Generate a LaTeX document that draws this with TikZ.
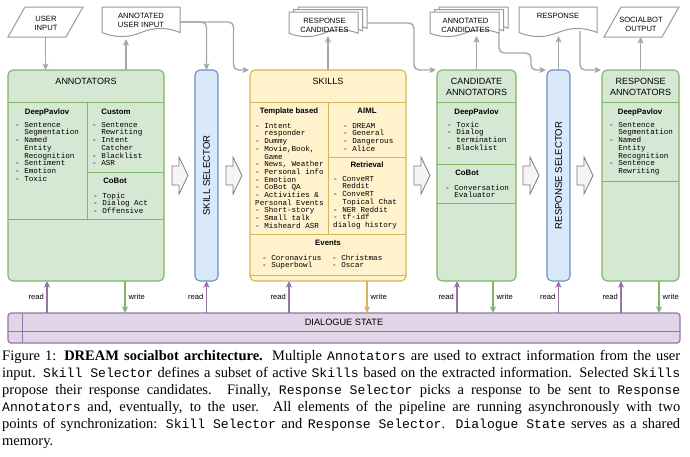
\documentclass[tikz,border=0pt]{standalone}
\usepackage{fontspec}
\setmainfont{Liberation Serif}
\setsansfont{Liberation Sans}
\setmonofont{Liberation Mono}
\usetikzlibrary{calc,arrows.meta}
\definecolor{gfill}{HTML}{D5E8D4}\definecolor{gline}{HTML}{82B366}
\definecolor{yfill}{HTML}{FFF2CC}\definecolor{yline}{HTML}{D6B656}
\definecolor{bfill}{HTML}{DAE8FC}\definecolor{bline}{HTML}{6C8EBF}
\definecolor{pfill}{HTML}{E1D5E7}\definecolor{pline}{HTML}{9673A6}
\definecolor{cline}{HTML}{A6A6A6}
\definecolor{docline}{HTML}{9A9A9A}
\definecolor{afill}{HTML}{F5F5F5}\definecolor{aline}{HTML}{7A7A7A}
\newcommand\mytitle{\fontsize{9}{11}\selectfont\sffamily}
\newcommand\myselfont{\fontsize{9.6}{11}\selectfont\sffamily}
\newcommand\mysub{\fontsize{7.8}{9}\selectfont\sffamily\bfseries}
\newcommand\mylbl{\fontsize{7.6}{9}\selectfont\sffamily}
\newcommand\mylist{\fontsize{7.6}{7.7}\selectfont\ttfamily}
\newcommand\mycap{\fontsize{14.5}{17}\selectfont\rmfamily}
\newcommand\ctt[1]{{\fontsize{13.1}{17}\selectfont\ttfamily #1}}
\newcommand\myfl{\rule{0pt}{6pt}}
\newcommand\myind{\hspace*{1.2em}}
\newcommand\mydoc[4]{\draw[docst] (#1.north west) -- (#1.north east) -- ($(#1.south east)+(0,-#3)$) .. controls +(-#2,-#4) and +(#2,-#4) .. ($(#1.south)+(0,-#3)$) .. controls +(-#2,#4) and +(#2,#4) .. ($(#1.south west)+(0,-#3)$) -- cycle;}
\newcommand\myarrow[1]{\draw[barrow] (#1,166) -- ({#1+7},166) -- ({#1+7},157) -- ({#1+16},175.5) -- ({#1+7},194) -- ({#1+7},185) -- (#1,185) -- cycle;}
\begin{document}
\begin{tikzpicture}[x=1pt,y=-1pt,
 box/.style={line width=1.1pt, rounded corners=5pt, inner sep=0pt, outer sep=0pt},
 gbox/.style={box, draw=gline, fill=gfill},
 ybox/.style={box, draw=yline, fill=yfill},
 bbox/.style={box, draw=bline, fill=bfill},
 pbox/.style={box, draw=pline, fill=pfill, rounded corners=3pt},
 ttl/.style={font=\mytitle, inner sep=0pt, align=center},
 sub/.style={font=\mysub, inner sep=0pt},
 lst/.style={font=\mylist, inner sep=0pt, anchor=north west, align=left},
 lbl/.style={font=\mylbl, inner sep=0pt, align=center},
 shp/.style={inner sep=0pt, outer sep=0pt},
 docst/.style={draw=docline, fill=white, line width=1pt},
 barrow/.style={draw=aline, fill=afill, line width=0.8pt},
 conn/.style={draw=cline, line width=1.4pt, rounded corners=5pt, -{Stealth[length=6.5pt,width=6pt,inset=1.5pt]}},
 rd/.style={draw=pline, line width=1.4pt, -{Stealth[length=6.5pt,width=6pt,inset=1.5pt]}},
 wr/.style={line width=1.4pt, -{Stealth[length=6.5pt,width=6pt,inset=1.5pt]}},
]
\useasboundingbox[fill=white] (0,0) rectangle (690,456);

% ---------- main boxes ----------
\node[gbox, minimum width=156, minimum height=211] (ann) at (86,175.5) {};
\node[bbox, minimum width=23, minimum height=211] (ssel) at (206.5,175.5) {};
\node[ybox, minimum width=156, minimum height=211] (skills) at (328,175.5) {};
\node[gbox, minimum width=79, minimum height=211] (cann) at (476.5,175.5) {};
\node[bbox, minimum width=23, minimum height=211] (rsel) at (558.5,175.5) {};
\node[gbox, minimum width=77, minimum height=211] (rann) at (640.5,175.5) {};
\node[pbox, minimum width=672, minimum height=30] (ds) at (344,328) {};

% dividers
\draw[gline, line width=1pt] (8,102) -- (164,102) (87,102) -- (87,219) (87,172) -- (164,172) (8,219) -- (164,219);
\draw[yline, line width=1pt] (250,102) -- (406,102) (328,102) -- (328,234) (328,157) -- (406,157) (250,234) -- (406,234) (250,275) -- (406,275);
\draw[gline, line width=1pt] (437,102) -- (516,102) (437,164) -- (516,164) (437,203) -- (516,203);
\draw[gline, line width=1pt] (602,102) -- (679,102) (602,181) -- (679,181);
\draw[pline, line width=1pt] (8,331) -- (680,331) (22,313) -- (22,343);

% ---------- texts in boxes ----------
\node[ttl] (annT) at (86,81) {ANNOTATORS};
\node[sub] (annDP) at (47,112) {DeepPavlov};
\node[lst] (annDPl) at (15,121) {\myfl- Sentence\\\myind Segmentation\\- Named\\\myind Entity\\\myind Recognition\\- Sentiment\\- Emotion\\- Toxic};
\node[sub] (annCu) at (116,112) {Custom};
\node[lst] (annCul) at (92,121) {\myfl- Sentence\\\myind Rewriting\\- Intent\\\myind Catcher\\- Blacklist\\- ASR};
\node[sub] (annCo) at (115,181) {CoBot};
\node[lst] (annCol) at (93,192) {\myfl- Topic\\- Dialog Act\\- Offensive};

\node[font=\myselfont, rotate=90, inner sep=0pt] (sselT) at (206.5,175.5) {SKILL SELECTOR};

\node[ttl] (skT) at (328,81) {SKILLS};
\node[sub] (skTB) at (289,111) {Template based};
\node[lst] (skTBl) at (255,122) {\myfl- Intent\\\myind responder\\- Dummy\\- Movie,Book,\\\myind Game\\- News, Weather\\- Personal info\\- Emotion\\- CoBot QA\\- Activities \&\\Personal Events\\- Short-story\\- Small talk\\- Misheard ASR};
\node[sub] (skAI) at (367,111) {AIML};
\node[lst] (skAIl) at (343,122) {\myfl- DREAM\\- General\\- Dangerous\\- Alice};
\node[sub] (skRe) at (367,165) {Retrieval};
\node[lst] (skRel) at (333,175) {\myfl- ConveRT\\\myind Reddit\\- ConveRT\\\myind Topical Chat\\- NER Reddit\\- tf-idf\\dialog history};
\node[sub] (skEv) at (328,243) {Events};
\node[lst] (skEvl) at (262,254) {\myfl- Coronavirus\\- Superbowl};
\node[lst] (skEvr) at (332,254) {\myfl- Christmas\\- Oscar};

\node[ttl] (cannT) at (476.5,86.5) {CANDIDATE\\ANNOTATORS};
\node[sub] (cannDP) at (476.5,112) {DeepPavlov};
\node[lst] (cannDPl) at (447,121) {\myfl- Toxic\\- Dialog\\\myind termination\\- Blacklist};
\node[sub] (cannCo) at (467,173) {CoBot};
\node[lst] (cannCol) at (445,184) {\myfl- Conversation\\\myind Evaluator};

\node[font=\myselfont, rotate=90, inner sep=0pt] (rselT) at (558.5,175.5) {RESPONSE SELECTOR};

\node[ttl] (rannT) at (640.5,86.5) {RESPONSE\\ANNOTATORS};
\node[sub] (rannDP) at (640,112) {DeepPavlov};
\node[lst] (rannDPl) at (609,121) {\myfl- Sentence\\\myind Segmentation\\- Named\\\myind Entity\\\myind Recognition\\- Sentence\\\myind Rewriting};

\node[font=\fontsize{9.2}{11}\selectfont\sffamily, inner sep=0pt] (dsT) at (344,322) {DIALOGUE STATE};

% ---------- block arrows ----------
\myarrow{172}
\myarrow{226}
\myarrow{414}
\myarrow{523}
\myarrow{577}

% ---------- top shapes (anchors) ----------
\node[shp, minimum width=58, minimum height=30] (ui) at (45.5,22) {};
\node[shp, minimum width=78, minimum height=30] (aui) at (141,22) {};
\node[shp, minimum width=69, minimum height=25] (rcb) at (332.5,19.5) {};
\node[shp, minimum width=69, minimum height=25] (rcm) at (328,22) {};
\node[shp, minimum width=69, minimum height=25] (rc) at (323.5,24.5) {};
\node[shp, minimum width=69, minimum height=25] (acb) at (473.5,19.5) {};
\node[shp, minimum width=69, minimum height=25] (acm) at (469,22) {};
\node[shp, minimum width=69, minimum height=25] (ac) at (464.5,24.5) {};
\node[shp, minimum width=78, minimum height=30] (rsp) at (558,22) {};
\node[shp, minimum width=58, minimum height=30] (so) at (641.5,22) {};

% ---------- connectors ----------
\draw[conn] (ui.south) -- (ui.south |- ann.north);
\draw[conn] ($(ann.north)+(40,0)$) -- ($(aui.south)+(-15,2)$);
\draw[conn] (aui.east) -| (ssel.north);
\draw[conn] (aui.east) -- ++(53.5,0) |- ($(skills.north west)+(-1,0)$);
\draw[conn] (skills.north) -- ($(skills.north |- rc.south)+(0,-1)$);
\draw[conn] ($(rcb.east)+(0,3.5)$) -- ++(47,0) |- ($(cann.north west)+(-1,0)$);
\draw[conn] (cann.north) -- ($(cann.north |- ac.south)+(0,-1)$);
\draw[conn] ($(ac.south east)+(0,-3.75)$) |- ($(rsel.north west)+(-16,-17)$) |- ($(rsel.north west)+(-1,0)$);
\draw[conn] (rsel.north) -- ($(rsel.north |- rsp.south)+(0,-1)$);
\draw[conn] ($(rsp.south)+(22,-6)$) |- ($(rann.north west)+(-1,0)$);
\draw[conn] (rann.north) -- (rann.north |- so.south);

% ---------- top shapes (drawn) ----------
\draw[docst] ($(ui.south west)+(-8.5,0)$) -- ($(ui.north west)+(8.5,0)$) -- ($(ui.north east)+(8.5,0)$) -- ($(ui.south east)+(-8.5,0)$) -- cycle;
\node[lbl] (uiT) at (46,23.5) {USER\\INPUT};
\mydoc{aui}{13}{4.5}{5.4}
\node[lbl] (auiT) at (141,20.5) {ANNOTATED\\USER INPUT};
\mydoc{rcb}{11.5}{3.75}{4.5}
\mydoc{rcm}{11.5}{3.75}{4.5}
\mydoc{rc}{11.5}{3.75}{4.5}
\node[lbl] (rcT) at (324.5,25.5) {RESPONSE\\CANDIDATES};
\mydoc{acb}{11.5}{3.75}{4.5}
\mydoc{acm}{11.5}{3.75}{4.5}
\mydoc{ac}{11.5}{3.75}{4.5}
\node[lbl] (acT) at (465.5,25.5) {ANNOTATED\\CANDIDATES};
\mydoc{rsp}{13}{4.5}{5.4}
\node[lbl] (rspT) at (558,16) {RESPONSE};
\draw[docst] ($(so.south west)+(-8.5,0)$) -- ($(so.north west)+(8.5,0)$) -- ($(so.north east)+(8.5,0)$) -- ($(so.south east)+(-8.5,0)$) -- cycle;
\node[lbl] (soT) at (641,24) {SOCIALBOT\\OUTPUT};

% ---------- read / write ----------
\draw[rd] ($(ds.north west)+(39,0)$) -- node[lbl, midway, left=2.4pt] (r1) {read} ($(ann.south west)+(39,0)$);
\draw[wr, draw=gline] ($(ann.south west)+(117,0)$) -- node[lbl, midway, right=3pt] (w1) {write} ($(ds.north west)+(117,0)$);
\draw[rd] (ssel.south |- ds.north) -- node[lbl, midway, left=2.4pt] (r2) {read} (ssel.south);
\draw[rd] ($(ds.north west)+(281,0)$) -- node[lbl, midway, left=2.4pt] (r3) {read} ($(skills.south west)+(39,0)$);
\draw[wr, draw=yline] ($(skills.south west)+(117,0)$) -- node[lbl, midway, right=3pt] (w3) {write} ($(skills.south west)+(117,32)$);
\draw[rd] ($(cann.south west)+(20,32)$) -- node[lbl, midway, left=2.4pt] (r4) {read} ($(cann.south west)+(20,0)$);
\draw[wr, draw=gline] ($(cann.south west)+(56,0)$) -- node[lbl, midway, right=3pt] (w4) {write} ($(cann.south west)+(56,32)$);
\draw[rd] (rsel.south |- ds.north) -- node[lbl, midway, left=2.4pt] (r5) {read} (rsel.south);
\draw[rd] ($(rann.south west)+(19,32)$) -- node[lbl, midway, left=2.4pt] (r6) {read} ($(rann.south west)+(19,0)$);
\draw[wr, draw=gline] ($(rann.south west)+(57,0)$) -- node[lbl, midway, right=3pt] (w6) {write} ($(rann.south west)+(57,32)$);

% ---------- caption ----------
\node[anchor=north west, inner sep=0pt, align=left, font=\mycap] (cap) at (2,348.1) {%
\makebox[678pt][s]{\strut Figure 1: \textbf{DREAM socialbot architecture.} Multiple \ctt{Annotators} are used to extract information from the user}\\
\makebox[678pt][s]{input. \ctt{Skill Selector} defines a subset of active \ctt{Skills} based on the extracted information. Selected \ctt{Skills}}\\
\makebox[678pt][s]{propose their response candidates. Finally, \ctt{Response Selector} picks a response to be sent to \ctt{Response}}\\
\makebox[678pt][s]{\ctt{Annotators} and, eventually, to the user. All elements of the pipeline are running asynchronously with two}\\
\makebox[678pt][s]{points of synchronization: \ctt{Skill Selector} and \ctt{Response Selector}. \ctt{Dialogue State} serves as a shared}\\
memory.};
\end{tikzpicture}
\end{document}
